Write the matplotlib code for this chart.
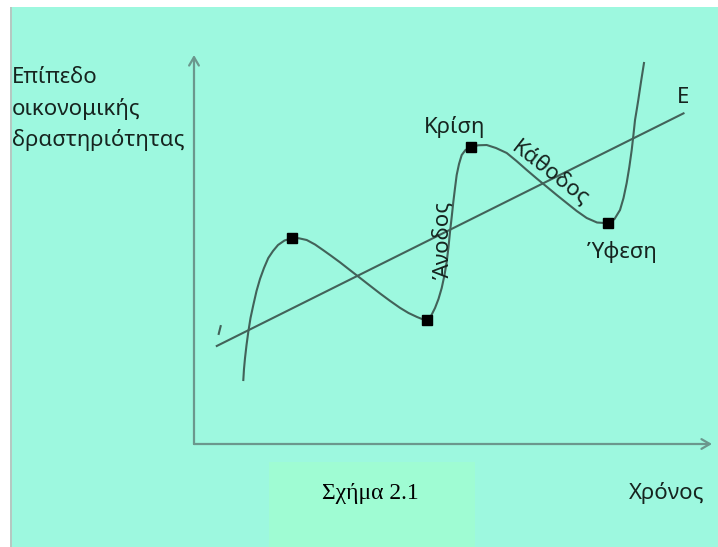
import numpy as np
import matplotlib.pyplot as plt
from matplotlib.patches import Rectangle

# economic cycle curve (time, level)
curve_x = [0.952, 0.965, 0.985, 1.014, 1.048, 1.091, 1.145, 1.207, 1.274, 1.351,
           1.434, 1.525, 1.622, 1.747, 1.886,
           2.027, 2.176, 2.336, 2.490, 2.645, 2.819, 2.992, 3.166, 3.378, 3.591,
           3.784, 3.977, 4.141, 4.305, 4.402, 4.498,
           4.575, 4.653, 4.720, 4.782, 4.836, 4.878, 4.913, 4.942, 4.975, 5.006,
           5.039, 5.071, 5.116, 5.168, 5.241, 5.347,
           5.483, 5.651, 5.830, 6.037, 6.226, 6.423, 6.616, 6.809, 7.002, 7.195,
           7.388, 7.581, 7.780, 7.998,
           8.118, 8.224, 8.292, 8.353, 8.404, 8.450, 8.483, 8.514, 8.546, 8.577,
           8.629, 8.687]
curve_y = [1.645, 1.928, 2.211, 2.545, 2.879, 3.239, 3.573, 3.933, 4.242, 4.524,
           4.781, 4.961, 5.116, 5.231, 5.288,
           5.288, 5.244, 5.129, 4.987, 4.840, 4.670, 4.490, 4.310, 4.090, 3.870,
           3.680, 3.500, 3.368, 3.265, 3.213, 3.188,
           3.290, 3.496, 3.728, 4.010, 4.344, 4.679, 5.064, 5.450, 5.835, 6.221,
           6.581, 6.915, 7.198, 7.429, 7.558, 7.627,
           7.679, 7.686, 7.609, 7.481, 7.275, 7.044, 6.825, 6.614, 6.401, 6.195,
           5.990, 5.810, 5.694, 5.674,
           5.784, 6.015, 6.324, 6.710, 7.121, 7.558, 7.943, 8.329, 8.586, 8.843,
           9.306, 9.794]

# turning points (black squares)
turn_x = [1.886, 4.498, 5.347, 7.998]
turn_y = [5.288, 3.188, 7.627, 5.674]

# trend line
trend_x = [0.44, 9.45]
trend_y = [2.52, 8.50]

bg = '#9df8df'
W, H = 718, 547

def px(x, y):
    return x / W, 1 - y / H

fig = plt.figure(figsize=(7.18, 5.47), dpi=100)
fig.patch.set_facecolor('white')
fig.patches.append(Rectangle((12 / W, 0), 1, 1 - 7 / H, transform=fig.transFigure,
                             facecolor=bg, edgecolor='none', zorder=-3))
fig.patches.append(Rectangle((10 / W, 0), 2 / W, 1 - 7 / H, transform=fig.transFigure,
                             facecolor='#b5c9c2', edgecolor='none', zorder=-3))
# caption box
fig.patches.append(Rectangle(px(269, 547), (475 - 269) / W, (547 - 462) / H,
                             transform=fig.transFigure, facecolor='#9ffcd3',
                             edgecolor='none', zorder=-2))

ax = fig.add_axes([194 / W, (547 - 444) / H, (712 - 194) / W, (444 - 55) / H])
ax.set_xlim(0, 10)
ax.set_ylim(0, 10)
ax.patch.set_alpha(0)
ax.axis('off')

axis_col = '#6b978d'
line_col = '#426259'
arrow = dict(arrowstyle='->,head_length=0.6,head_width=0.35', lw=1.6, color=axis_col,
             shrinkA=0, shrinkB=0)
ax.annotate('', xy=(10, 0), xytext=(0, 0), arrowprops=arrow, annotation_clip=False)
ax.annotate('', xy=(0, 10), xytext=(0, 0), arrowprops=arrow, annotation_clip=False)

ax.plot(trend_x, trend_y, color=line_col, lw=1.5, clip_on=False)
ax.plot([0.477, 0.515], [2.83, 3.03], color=line_col, lw=1.5, clip_on=False)
ax.plot(curve_x, curve_y, color=line_col, lw=1.5, clip_on=False, solid_joinstyle='round')
ax.plot(turn_x, turn_y, 's', color='black', markersize=6.5, clip_on=False)

font = 'Noto Sans'
tc = '#16241f'
fs = 16
for txt, yb in [('Επίπεδο', 83), ('οικονομικής', 115), ('δραστηριότητας', 146)]:
    fig.text(*px(12, yb), txt, fontsize=fs, family=font, color=tc, va='baseline', ha='left')

fig.text(*px(455, 133), 'Κρίση', fontsize=fs, family=font, color=tc, va='baseline', ha='center')
fig.text(*px(622, 258), 'Ύφεση', fontsize=fs, family=font, color=tc, va='baseline', ha='center')
fig.text(*px(443, 240), 'Άνοδος', fontsize=fs, family=font, color=tc, va='center',
         ha='center', rotation=90)
fig.text(*px(550, 174), 'Κάθοδος', fontsize=fs, family=font, color=tc, va='center',
         ha='center', rotation=-38, rotation_mode='anchor')
fig.text(*px(683, 97), 'E', fontsize=fs, family=font, color=tc, va='center', ha='center')
fig.text(*px(667, 499), 'Χρόνος', fontsize=fs, family=font, color=tc, va='baseline', ha='center')
fig.text(*px(370, 499), 'Σχήμα 2.1', fontsize=17, family='Liberation Serif', color='black',
         va='baseline', ha='center')

fig.savefig('out.png', dpi=100, facecolor=fig.get_facecolor())
